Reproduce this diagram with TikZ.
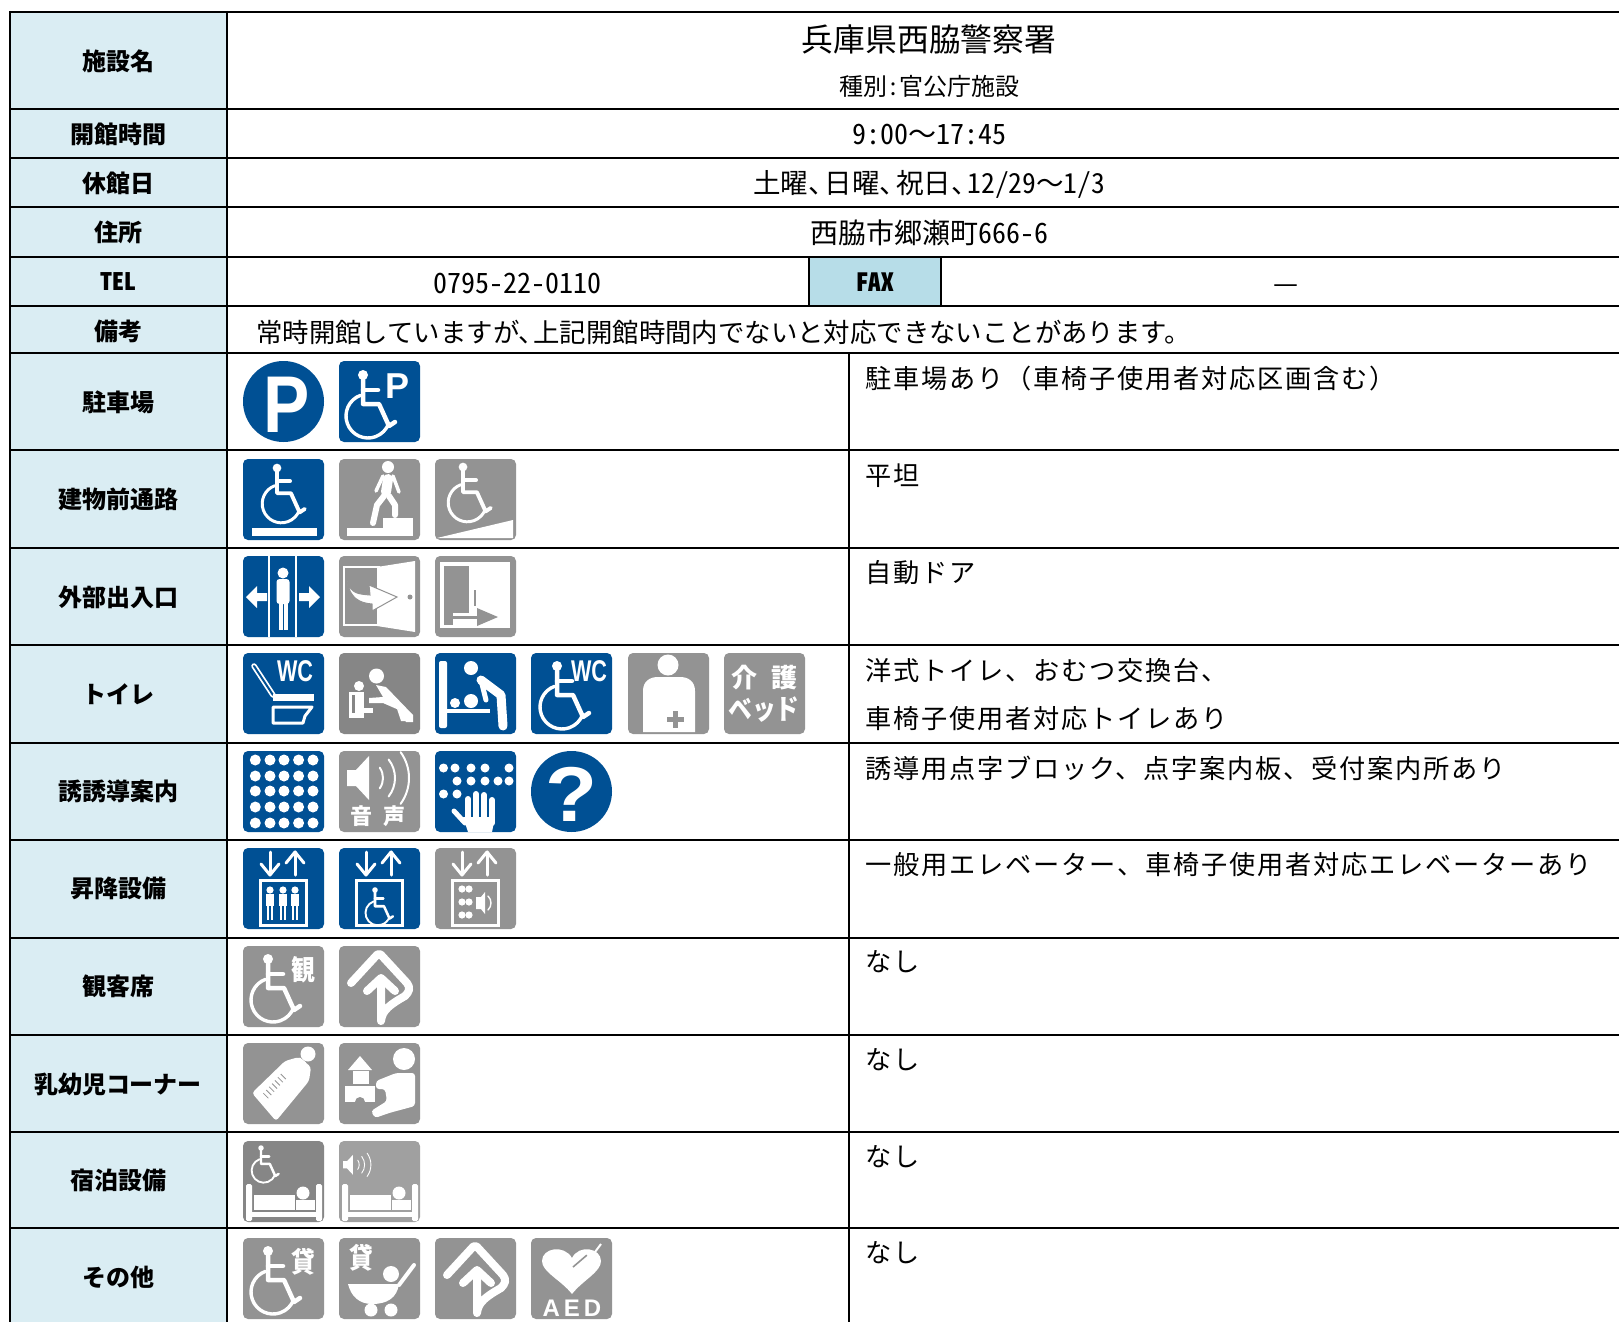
\documentclass[tikz,border=0pt]{standalone}
\usepackage{fontspec}
\usetikzlibrary{calc}
\setmainfont{Noto Sans CJK JP}
\newfontfamily\hwf[CharacterWidth=Half]{Noto Sans CJK JP}
\newfontfamily\vtf[LetterSpace=7]{Noto Sans CJK JP}
\newfontfamily\latf{Liberation Sans}
\definecolor{iblue}{RGB}{0,80,148}
\definecolor{igrey}{RGB}{147,147,147}
\definecolor{idark}{RGB}{134,134,134}
\definecolor{ilite}{RGB}{160,160,160}
\definecolor{lab}{RGB}{218,237,243}
\definecolor{faxc}{RGB}{183,221,232}
\tikzset{
 grid/.style={draw=black,line width=2pt},
 thin grid/.style={draw=black,line width=1.4pt},
 lbl/.style={font=\fontsize{24}{28}\selectfont\bfseries,inner sep=0pt},
 vt/.style={anchor=west,font=\fontsize{26.2}{30}\vtf\selectfont,inner sep=0pt},
 ct/.style={font=\fontsize{28}{32}\selectfont,inner sep=0pt},
 wl/.style={draw=white,line cap=round,line join=round},
 wt/.style={text=white,inner sep=0pt},
}
\newcommand\icon[4]{\begin{scope}[shift={(#1,#2)}]\fill[#3,rounded corners=5pt] (0,0) rectangle (81,81);#4\end{scope}}
\newcommand\rnd[3]{\begin{scope}[shift={(#1,#2)}]\fill[iblue] (40.5,40.5) circle (40.5);#3\end{scope}}
\newcommand\wch[3]{\begin{scope}[shift={(#1,#2)},scale=#3]
 \fill[white] (0,0) circle (5);
 \draw[wl,line width=#3*4.5pt] (0,0)--(0,29)--(16,29)--(26,51)--(32,47);
 \draw[wl,line width=#3*4.5pt] (0,15)--(15,15);
 \draw[wl,line width=#3*3.4pt] ([shift={(5,41)}]250:22) arc[start angle=250,end angle=20,radius=22];
\end{scope}}
\newcommand\routearrow{%
 \draw[wl,line width=8pt] (12,37)--(36,11) .. controls (39,7) and (41,7) .. (44,11)--(68,37) .. controls (72,42) and (70,46) .. (66,50) .. controls (52,58) and (43,64) .. (42,75)--(42,34);
 \draw[wl,line width=8pt] (28,45)--(42,32)--(56,45);}
\newcommand\speaker[3]{\begin{scope}[shift={(#1,#2)},scale=#3]
 \fill[white] (0,16)--(9,16)--(22,2)--(22,46)--(9,32)--(0,32)--cycle;
 \draw[wl,line width=#3*2pt] ([shift={(18,24)}]-35:18) arc[start angle=-35,end angle=35,radius=18];
 \draw[wl,line width=#3*2pt] ([shift={(18,24)}]-38:30) arc[start angle=-38,end angle=38,radius=30];
 \draw[wl,line width=#3*2pt] ([shift={(18,24)}]-36:44) arc[start angle=-36,end angle=36,radius=44];
\end{scope}}
\newcommand\bed{%
 \fill[white,rounded corners=1.5pt] (3,43) rectangle (9,80);
 \fill[white,rounded corners=1.5pt] (73,43) rectangle (79,80);
 \fill[white] (9,71) rectangle (74,76);
 \fill[white] (11,54) rectangle (52,69);
 \fill[white] (53,59) rectangle (72,69);
 \fill[white] (60,52) circle (6.5);}
\newcommand\elevbase{%
 \draw[wl,line width=3pt] (27,4)--(27,26);\draw[wl,line width=3pt] (18,16)--(27,27)--(36,16);
 \draw[wl,line width=3pt] (52,27)--(52,4);\draw[wl,line width=3pt] (43,15)--(52,4)--(61,15);
 \draw[white,line width=3pt] (17,32) rectangle (63,77);}
\newcommand\elevman[1]{%
 \fill[white] (#1,42) circle (3.6);
 \draw[white,line width=8pt] (#1,46)--(#1,58);
 \draw[white,line width=2.6pt] (#1-2,58)--(#1-2,72);
 \draw[white,line width=2.6pt] (#1+2,58)--(#1+2,72);}
\begin{document}
\begin{tikzpicture}[x=1pt,y=-1pt]
\useasboundingbox (0,0) rectangle (1619,1322);
\fill[white] (0,0) rectangle (1619,1322);
% label column
\fill[lab] (10,12) rectangle (227,1322);
\fill[faxc] (809,257) rectangle (941,306);
% grid
\foreach \yy in {12,109,158,207,257,306,353,450,548,645,743,840,938,1035,1132,1228}
 \draw[grid] (9,\yy)--(1619,\yy);
\draw[grid] (10,11)--(10,1322);
\draw[grid] (227,11)--(227,1322);
\draw[grid] (849,353)--(849,1322);
\draw[thin grid] (809,257)--(809,306);
\draw[thin grid] (941,257)--(941,306);
% labels
\node[lbl] (l1) at (118,61) {施設名};
\node[lbl] (l2) at (118,134) {開館時間};
\node[lbl] (l3) at (118,183.5) {休館日};
\node[lbl] (l4) at (118,232.5) {住所};
\node[lbl] (l5) at (118,282) {\hwf TEL};
\node[lbl] (l6) at (118,331.5) {備考};
\node[lbl] (l7) at (118,402) {駐車場};
\node[lbl] (l8) at (118,499) {建物前通路};
\node[lbl] (l9) at (118,597) {外部出入口};
\node[lbl] (l10) at (118,694) {トイレ};
\node[lbl] (l11) at (118,791) {誘誘導案内};
\node[lbl] (l12) at (118,888.5) {昇降設備};
\node[lbl] (l13) at (118,986.5) {観客席};
\node[lbl] (l14) at (118,1084) {乳幼児コーナー};
\node[lbl] (l15) at (118,1180.5) {宿泊設備};
\node[lbl] (l16) at (118,1277.5) {その他};
% top values
\node[font=\fontsize{31.8}{36}\selectfont,inner sep=0pt] (title) at (929,39) {兵庫県西脇警察署};
\node[font=\fontsize{24}{28}\selectfont,inner sep=0pt] (kind) at (929,86) {種別{\hwf :}官公庁施設};
\node[ct] (hours) at (929,135) {\hwf 9:00{\rmfamily 〜}17:45};
\node[ct,font=\fontsize{27.5}{32}\selectfont] (closed) at (929,184.5) {土曜、\hspace{-.4em}日曜、\hspace{-.4em}祝日、\hspace{-.4em}{\hwf 12/29}〜{\hwf 1/3}};
\node[ct] (addr) at (929,233) {西脇市郷瀬町{\hwf 666-6}};
\node[ct] (tel) at (517,283) {\hwf 0795-22-0110};
\node[lbl,font=\fontsize{25}{30}\selectfont\bfseries] (fax) at (875,282.5) {\hwf FAX};
\node[ct,font=\fontsize{28}{32}\selectfont] (faxv) at (1285.5,289) {—};
\node[ct,anchor=west,font=\fontsize{26.4}{30}\selectfont] (note) at (256,332) {常時開館していますが、\hspace{-.45em}上記開館時間内でないと対応できないことがあります。};
% right values
\node[vt] (v7) at (865,379) {駐車場あり（車椅子使用者対応区画含む）};
\node[vt] (v8) at (865,476) {平坦};
\node[vt] (v9) at (865,573) {自動ドア};
\node[vt] (v10a) at (865,671) {洋式トイレ、おむつ交換台、};
\node[vt] (v10b) at (865,719) {車椅子使用者対応トイレあり};
\node[vt] (v11) at (865,768) {誘導用点字ブロック、点字案内板、受付案内所あり};
\node[vt] (v12) at (865,865) {一般用エレベーター、車椅子使用者対応エレベーターあり};
\node[vt] (v13) at (865,962) {なし};
\node[vt] (v14) at (865,1060) {なし};
\node[vt] (v15) at (865,1157) {なし};
\node[vt] (v16) at (865,1253) {なし};
% --- parking
\rnd{243}{361}{\node[wt,font=\fontsize{66}{70}\latf\bfseries\selectfont] (iP) at (44,44) {\scalebox{1.05}[1.22]{P}};}
\icon{339}{361}{iblue}{\wch{24}{14}{1}\node[wt,font=\fontsize{36}{40}\latf\bfseries\selectfont] (iP2) at (59,25) {P};}
% --- approach
\icon{243}{459}{iblue}{\wch{34}{9}{.87}\fill[white] (9,69) rectangle (74,77);}
\icon{339}{459}{igrey}{\fill[white] (49,8) circle (6);
 \draw[wl,line width=10pt] (49,20)--(47,33);
 \draw[wl,line width=3.5pt] (44,17)--(37,32);\draw[wl,line width=3.5pt] (54,17)--(60,33);
 \draw[wl,line width=6pt] (45,37)--(38,46)--(34,64);\draw[wl,line width=6pt] (50,37)--(56,46)--(56,56);
 \fill[white] (8,69) rectangle (74,77);\fill[white] (44,59) rectangle (74,69);}
\icon{435}{459}{igrey}{\wch{28}{8}{.87}\fill[white] (2,79)--(78,61)--(78,79)--cycle;}
% --- entrance
\icon{243}{556}{iblue}{\draw[white,line width=1.6pt] (26,0)--(26,81);\draw[white,line width=1.6pt] (53,0)--(53,81);
 \fill[white] (40,17) circle (5.5);
 \fill[white,rounded corners=3pt] (33.5,23) rectangle (46.5,48);
 \fill[white] (35.5,46) rectangle (39.5,74);\fill[white] (40.5,46) rectangle (44.5,74);
 \fill[white] (3,41)--(14,30)--(14,37)--(24,37)--(24,45)--(14,45)--(14,52)--cycle;
 \fill[white] (77,41)--(66,30)--(66,37)--(56,37)--(56,45)--(66,45)--(66,52)--cycle;}
\icon{339}{556}{igrey}{\draw[white,line width=1.6pt] (5,11) rectangle (40,69);
 \fill[white] (38,11)--(76,5)--(76,76)--(38,70)--cycle;
 \fill[igrey] (71,41) circle (2.5);
 \fill[white,draw=igrey,line width=1pt] (8,25) .. controls (12,38) and (20,38) .. (31,39)--(30,29)--(58,41)--(33,55)--(33,48) .. controls (20,47) and (11,42) .. (8,25)--cycle;}
\icon{435}{556}{igrey}{\fill[white] (5,6) rectangle (75,72);
 \fill[igrey] (8.5,9.5) rectangle (34,57);
 \fill[igrey] (8.5,57) rectangle (18,68.5);
 \fill[igrey] (38.5,34) rectangle (40.5,50);
 \fill[igrey] (18,59.5) rectangle (45,63);
 \fill[igrey] (42,52)--(63,61)--(42,70)--cycle;}
% --- toilet
\icon{243}{653}{iblue}{\node[wt,font=\fontsize{30}{34}\latf\bfseries\selectfont] (wc1) at (52,18.5) {\scalebox{.72}[1]{WC}};
 \draw[white,line width=5.5pt,line cap=round] (11,13)--(30,42);\draw[iblue,line width=2pt,line cap=round] (11,13)--(30,42);
 \fill[white] (30,41) rectangle (71,48);
 \draw[white,line width=3pt,line join=round] (30,54)--(69,54)--(62,63)--(60,70)--(30,70)--cycle;}
\icon{339}{653}{idark}{\fill[white] (37.5,23) circle (7.5);
 \fill[white] (37,32)--(47,34)--(74,62)--(74,69)--(67,69)--(60,57)--(44,50)--(30,50)--(30,45)--(44,44)--cycle;
 \fill[white] (58,56)--(67,60)--(72,68)--(62,68)--cycle;
 \fill[white] (20,33) circle (5);
 \fill[white] (10,39) rectangle (25,65);
 \fill[idark] (13,42) rectangle (16,60);
 \fill[white] (25,55) rectangle (34,60);}
\icon{435}{653}{iblue}{\fill[white,rounded corners=2pt] (4,8) rectangle (12,75);
 \fill[white] (12,56) rectangle (55,60);
 \fill[white] (36,15) circle (7);
 \fill[white] (20,50) circle (5);\fill[white] (36,48) circle (7);
 \draw[wl,line width=9pt] (46,27)--(66,42)--(68,73);
 \draw[wl,line width=5pt] (46,27)--(51,47);}
\icon{531}{653}{iblue}{\wch{26}{13}{1}\node[wt,font=\fontsize{30}{34}\latf\bfseries\selectfont] (wc2) at (58,18.5) {\scalebox{.72}[1]{WC}};}
\icon{628}{653}{igrey}{\fill[white] (40,12) circle (10.5);
 \fill[white] (15,38) .. controls (15,28) and (22,24) .. (30,24)--(52,24) .. controls (60,24) and (67,28) .. (67,38)--(67,79)--(15,79)--cycle;
 \fill[igrey] (45,58) rectangle (50,75);\fill[igrey] (39,64) rectangle (56,69);}
\icon{724}{653}{igrey}{\node[wt,font=\fontsize{26}{30}\selectfont\bfseries] (ka) at (20,25) {介};
 \node[wt,font=\fontsize{26}{30}\selectfont\bfseries] (go) at (60,25) {護};
 \node[wt,font=\fontsize{28}{30}\selectfont\bfseries] (bed) at (40,57) {\scalebox{.85}[1]{ベッド}};}
% --- guidance
\icon{243}{751}{iblue}{\foreach \xx in {12.3,27,41,55.6,70}\foreach \yy in {9,25,40,56,72}\fill[white] (\xx,\yy) circle (5.5);}
\icon{339}{751}{igrey}{\speaker{8}{3}{1}
 \node[wt,font=\fontsize{22}{26}\selectfont\bfseries] (on) at (22.5,65) {音};
 \node[wt,font=\fontsize{22}{26}\selectfont\bfseries] (koe) at (55,65) {声};}
\icon{435}{751}{iblue}{\foreach \xx in {8.5,20,36,50,74}\fill[white] (\xx,17) circle (4.5);
 \foreach \xx in {22,36,50,63,74}\fill[white] (\xx,30) circle (4.5);
 \foreach \xx in {8.5,22}\fill[white] (\xx,43) circle (4.5);
 \draw[wl,line width=5pt] (30,72)--(19,60);
 \foreach \xx/\yy in {33/48,41/43,49/44,57/49}\draw[wl,line width=6pt] (\xx,72)--(\xx,\yy);
 \fill[white] (28,66)--(60,66)--(57,81)--(33,81)--cycle;}
\rnd{531}{751}{\node[wt,font=\fontsize{74}{78}\latf\bfseries\selectfont] (qm) at (40.5,43) {\scalebox{1.15}[1.05]{?}};}
% --- lifts
\icon{243}{848}{iblue}{\elevbase\elevman{27}\elevman{40}\elevman{52}}
\icon{339}{848}{iblue}{\elevbase\wch{36}{42}{.56}}
\icon{435}{848}{igrey}{\elevbase\foreach \xx in {27,34}\foreach \yy in {41,54,67}\fill[white] (\xx,\yy) circle (3.6);
 \fill[white] (41,49)--(46,49)--(50,44)--(50,66)--(46,61)--(41,61)--cycle;
 \draw[wl,line width=1.4pt] (53,48) .. controls (57,52) and (57,58) .. (53,62);}
% --- seats
\icon{243}{946}{igrey}{\wch{25}{13}{1}\node[wt,font=\fontsize{28}{32}\selectfont\bfseries] (kan) at (60,24) {\scalebox{.85}[1]{観}};}
\icon{339}{946}{igrey}{\routearrow}
% --- infants
\icon{243}{1043}{igrey}{\fill[white] (65,11) circle (7.5);\draw[white,line width=8pt] (60,17)--(56,22);
 \fill[white,rounded corners=3pt] (9,50)--(33,78)--(66,38)--(68,24)--(56,14)--(42,18)--cycle;
 \foreach \t in {0.15,0.25,...,0.85}\draw[igrey,line width=.8pt] ($(16,55)!\t!(45,23)$)--++(5,5);}
\icon{339}{1043}{igrey}{\fill[white] (65,16) circle (11);
 \fill[white] (21,13)--(33,27)--(9,27)--cycle;\fill[white] (14,28) rectangle (30,41);\fill[white] (6,43) rectangle (36,59);
 \fill[igrey] (16,59) arc[start angle=180,end angle=360,radius=5];
 \fill[white,rounded corners=3pt] (57,30)--(76,30)--(76,63)--(50,70)--(36,75)--(32,68)--(48,58)--(46,46)--(37,46)--(37,38)--cycle;}
% --- lodging
\icon{243}{1141}{idark}{\wch{18}{7}{.55}\bed}
\icon{339}{1141}{ilite}{\speaker{4}{13}{.45}\bed}
% --- other
\icon{243}{1238}{igrey}{\wch{25}{13}{1}\node[wt,font=\fontsize{28}{32}\selectfont\bfseries] (kas1) at (60,24) {\scalebox{.85}[1]{貸}};}
\icon{339}{1238}{igrey}{\node[wt,font=\fontsize{28}{32}\selectfont\bfseries] (kas2) at (22,20) {\scalebox{.85}[1]{貸}};
 \fill[white] (52,36) circle (8);
 \fill[white] (9,46)--(60,46) .. controls (58,60) and (48,66) .. (33,66) .. controls (20,66) and (12,58) .. (9,46)--cycle;
 \draw[wl,line width=4pt] (60,47)--(75,27);
 \fill[white] (32,72) circle (6.5);\fill[white] (52,72) circle (6.5);}
\icon{435}{1238}{igrey}{\routearrow}
\icon{531}{1238}{igrey}{\fill[white] (41,56) .. controls (30,42) and (11,34) .. (11,23) .. controls (11,10) and (33,6) .. (41,20) .. controls (48,6) and (70,10) .. (70,23) .. controls (70,34) and (52,42) .. (41,56)--cycle;
 \draw[igrey,line width=1.6pt] (42,29)--(56,17);\draw[white,line width=2pt,line join=round] (56,17)--(60,13)--(61,18)--(70,6);
 \node[wt,font=\fontsize{24}{26}\latf\bfseries\selectfont] (aed) at (41,70) {A\,E\,D};}
\end{tikzpicture}
\end{document}
